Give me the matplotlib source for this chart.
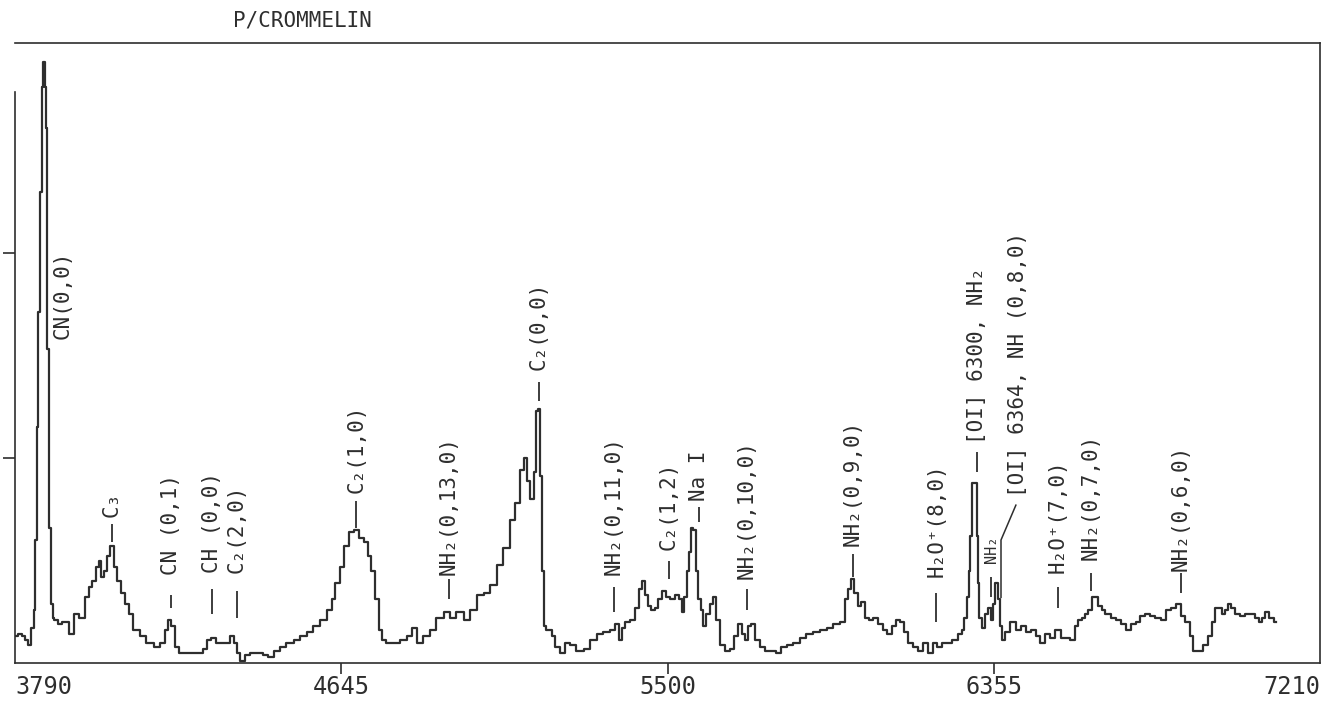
import numpy as np
import matplotlib
matplotlib.use('Agg')
import matplotlib.pyplot as plt

# スペクトル (波長 Å, 強度 任意単位) - 図から読み取り
wavelength = [
    3793, 3803, 3814, 3821, 3829, 3837, 3840, 3845, 3848, 3850, 3853, 3858, 3861, 3866, 3871, 3874,
    3876, 3882, 3887, 3890, 3897, 3908, 3918, 3926, 3939, 3952, 3966, 3979, 3987, 3997, 4005, 4013,
    4018, 4026, 4034, 4042, 4047, 4052, 4060, 4073, 4084, 4091, 4110, 4125, 4144, 4162, 4178, 4188,
    4196, 4204, 4215, 4222, 4241, 4256, 4275, 4288, 4296, 4309, 4327, 4346, 4359, 4367, 4374, 4385,
    4398, 4414, 4432, 4450, 4458, 4477, 4492, 4511, 4529, 4545, 4563, 4581, 4597, 4616, 4623, 4636,
    4647, 4660, 4673, 4686, 4699, 4712, 4720, 4728, 4739, 4747, 4754, 4773, 4791, 4807, 4825, 4838,
    4851, 4870, 4885, 4904, 4922, 4938, 4956, 4975, 4990, 5009, 5027, 5043, 5061, 5079, 5095, 5108,
    5119, 5127, 5134, 5145, 5153, 5158, 5163, 5168, 5174, 5179, 5184, 5192, 5200, 5210, 5224, 5237,
    5252, 5271, 5289, 5305, 5323, 5341, 5357, 5368, 5376, 5383, 5394, 5410, 5420, 5428, 5436, 5446,
    5454, 5462, 5472, 5480, 5493, 5501, 5512, 5525, 5533, 5541, 5548, 5554, 5559, 5564, 5572, 5577,
    5583, 5590, 5598, 5606, 5617, 5624, 5632, 5643, 5656, 5669, 5682, 5690, 5698, 5708, 5716, 5724,
    5735, 5748, 5761, 5777, 5790, 5803, 5821, 5839, 5855, 5873, 5892, 5908, 5926, 5944, 5960, 5970,
    5978, 5986, 5994, 6004, 6012, 6023, 6031, 6044, 6057, 6070, 6083, 6096, 6104, 6115, 6122, 6136,
    6149, 6162, 6175, 6188, 6201, 6214, 6227, 6240, 6253, 6267, 6274, 6282, 6288, 6293, 6295, 6301,
    6309, 6311, 6314, 6319, 6327, 6335, 6343, 6350, 6356, 6361, 6369, 6374, 6379, 6392, 6405, 6419,
    6432, 6445, 6458, 6471, 6484, 6497, 6510, 6523, 6537, 6547, 6563, 6573, 6581, 6589, 6599, 6607,
    6620, 6634, 6641, 6654, 6668, 6681, 6694, 6707, 6720, 6733, 6746, 6759, 6772, 6785, 6799, 6812,
    6825, 6838, 6851, 6864, 6872, 6882, 6896, 6909, 6922, 6930, 6940, 6948, 6956, 6966, 6974, 6982,
    6993, 7006, 7019, 7032, 7045, 7053, 7061, 7071, 7084, 7095,
]
flux = [
    0.13, 0.14, 0.13, 0.11, 0.09, 0.17, 0.26, 0.60, 1.15, 1.58, 1.71, 2.30, 2.81, 2.93, 2.81, 2.61,
    1.53, 0.66, 0.29, 0.22, 0.21, 0.19, 0.20, 0.20, 0.14, 0.24, 0.22, 0.32, 0.37, 0.40, 0.47, 0.50,
    0.42, 0.45, 0.52, 0.57, 0.57, 0.47, 0.40, 0.34, 0.29, 0.24, 0.16, 0.13, 0.10, 0.08, 0.10, 0.16,
    0.21, 0.18, 0.08, 0.05, 0.05, 0.05, 0.05, 0.07, 0.11, 0.12, 0.10, 0.10, 0.13, 0.10, 0.05, 0.01,
    0.04, 0.05, 0.05, 0.04, 0.03, 0.06, 0.08, 0.10, 0.11, 0.13, 0.15, 0.18, 0.21, 0.26, 0.31, 0.39,
    0.47, 0.57, 0.64, 0.65, 0.61, 0.59, 0.52, 0.45, 0.31, 0.16, 0.11, 0.10, 0.10, 0.11, 0.13, 0.17,
    0.10, 0.13, 0.16, 0.22, 0.25, 0.22, 0.25, 0.21, 0.26, 0.33, 0.34, 0.38, 0.48, 0.56, 0.70, 0.78,
    0.94, 1.00, 0.89, 0.80, 0.93, 1.23, 1.24, 0.91, 0.45, 0.18, 0.16, 0.16, 0.13, 0.08, 0.05, 0.10,
    0.09, 0.06, 0.07, 0.11, 0.14, 0.15, 0.16, 0.19, 0.11, 0.17, 0.20, 0.21, 0.27, 0.36, 0.40, 0.33,
    0.28, 0.26, 0.27, 0.31, 0.35, 0.32, 0.31, 0.33, 0.31, 0.25, 0.32, 0.45, 0.54, 0.66, 0.65, 0.45,
    0.31, 0.26, 0.18, 0.24, 0.29, 0.32, 0.21, 0.09, 0.06, 0.07, 0.13, 0.19, 0.14, 0.11, 0.18, 0.19,
    0.11, 0.08, 0.06, 0.06, 0.05, 0.08, 0.09, 0.10, 0.12, 0.14, 0.15, 0.16, 0.17, 0.19, 0.20, 0.31,
    0.36, 0.41, 0.34, 0.28, 0.30, 0.22, 0.21, 0.22, 0.19, 0.16, 0.14, 0.18, 0.21, 0.20, 0.15, 0.10,
    0.08, 0.06, 0.10, 0.05, 0.10, 0.08, 0.10, 0.10, 0.11, 0.14, 0.16, 0.22, 0.32, 0.45, 0.62, 0.88,
    0.88, 0.62, 0.39, 0.22, 0.17, 0.24, 0.27, 0.21, 0.29, 0.39, 0.31, 0.18, 0.11, 0.15, 0.20, 0.16,
    0.18, 0.15, 0.16, 0.13, 0.10, 0.14, 0.12, 0.16, 0.12, 0.12, 0.11, 0.18, 0.21, 0.22, 0.24, 0.26,
    0.32, 0.28, 0.26, 0.24, 0.22, 0.21, 0.19, 0.16, 0.19, 0.20, 0.23, 0.24, 0.23, 0.22, 0.21, 0.26,
    0.27, 0.29, 0.23, 0.20, 0.13, 0.06, 0.06, 0.09, 0.13, 0.20, 0.27, 0.27, 0.24, 0.26, 0.29, 0.27,
    0.24, 0.23, 0.24, 0.24, 0.22, 0.20, 0.22, 0.25, 0.22, 0.20,
]

# 輝線の同定ラベル
label_text = ['CN(0,0)', 'C₃', 'CN (0,1)', 'CH (0,0)', 'C₂(2,0)', 'C₂(1,0)', 'NH₂(0,13,0)',
              'C₂(0,0)', 'NH₂(0,11,0)', 'C₂(1,2)', 'Na I', 'NH₂(0,10,0)', 'NH₂(0,9,0)',
              'H₂O⁺(8,0)', '[OI] 6300, NH₂', 'NH₂', '[OI] 6364, NH (0,8,0)', 'H₂O⁺(7,0)',
              'NH₂(0,7,0)', 'NH₂(0,6,0)']
label_wl = [3916, 4044, 4199, 4306, 4372, 4684, 4927, 5163, 5360, 5504, 5583, 5708, 5986,
            6204, 6311, 6348, 6419, 6523, 6610, 6846]
label_y = [1.58, 0.71, 0.43, 0.44, 0.44, 0.83, 0.43, 1.43, 0.43, 0.55, 0.79, 0.41, 0.57,
           0.42, 1.07, 0.49, 0.81, 0.44, 0.50, 0.45]
dash_lo = [None, 0.59, 0.27, 0.24, 0.22, 0.66, 0.31, 1.28, 0.25, 0.41, 0.69, 0.26, 0.42,
           0.20, 0.93, 0.32, None, 0.27, 0.35, 0.34]
dash_hi = [None, 0.68, 0.33, 0.36, 0.35, 0.79, 0.41, 1.37, 0.37, 0.50, 0.76, 0.36, 0.53,
           0.34, 1.03, 0.42, None, 0.37, 0.44, 0.44]
label_size = [15] * 15 + [11] + [15] * 4

xticks = [3790, 4645, 5500, 6355, 7210]
ink = '#2e2e2e'
mono = ['DejaVu Sans Mono', 'DejaVu Sans']

fig = plt.figure(figsize=(13.35, 7.02), dpi=100)
ax = fig.add_axes([15 / 1335, 39 / 702, 1305 / 1335, 620 / 702])

ax.plot(wavelength, flux, drawstyle='steps-mid', color=ink, lw=1.6)

for s, wl, y, lo, hi, fs in zip(label_text, label_wl, label_y, dash_lo, dash_hi, label_size):
    ax.text(wl, y, s, rotation=90, ha='center', va='bottom', fontsize=fs,
            family=mono, color=ink)
    if lo is not None:
        ax.vlines(wl, lo, hi, color=ink, lw=1.3)

# [OI]6364 の引き出し線
ax.plot([6413, 6374, 6374], [0.77, 0.60, 0.32], color=ink, lw=1.1)

ax.set_xlim(3790, 7210)
ax.set_ylim(0, 620 / 205)

ax.set_xticks(xticks)
ax.set_xticklabels([str(t) for t in xticks], family=mono, fontsize=17, color=ink)
ax.set_yticks([1, 2])
ax.set_yticklabels([])
ax.tick_params(axis='x', direction='out', length=8, width=1.2, color=ink, pad=1)
ax.tick_params(axis='y', direction='out', length=8.5, width=1.2, color=ink)
ticks = ax.xaxis.get_major_ticks()
ticks[0].tick1line.set_visible(False)
ticks[-1].tick1line.set_visible(False)
lbls = ax.get_xticklabels()
lbls[0].set_ha('left')
lbls[-1].set_ha('right')

for sp in ax.spines.values():
    sp.set_color(ink)
    sp.set_linewidth(1.2)
ax.spines['left'].set_bounds(0, (663 - 92) / 205)

fig.text(302 / 1335, 1 - 21 / 702, 'P/CROMMELIN', ha='center', va='center',
         fontsize=15, family=mono, color=ink)

plt.savefig('out.png', dpi=100)
